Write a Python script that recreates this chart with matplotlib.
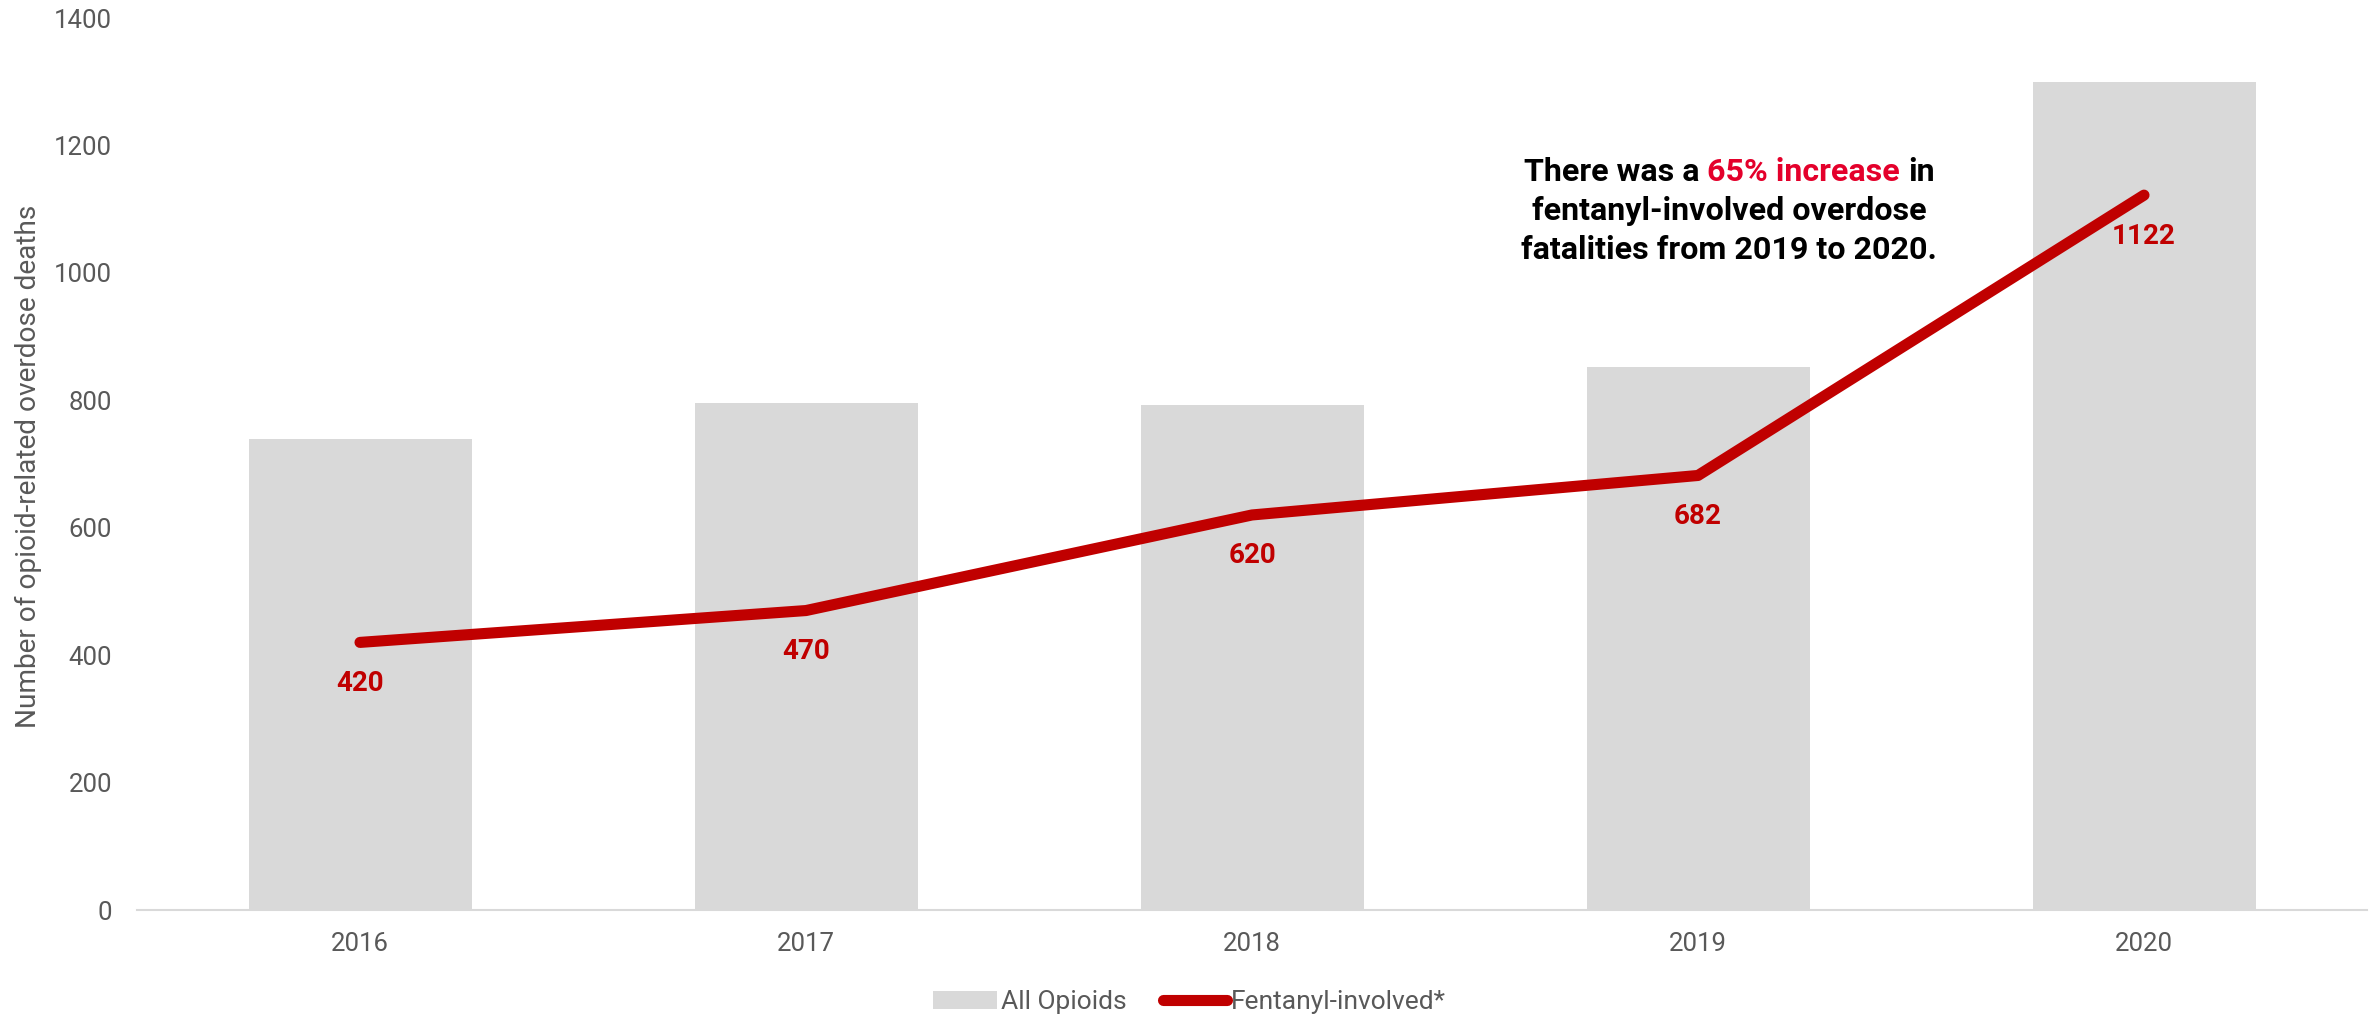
import matplotlib
matplotlib.use("Agg")
import matplotlib.pyplot as plt
from matplotlib.lines import Line2D
from matplotlib.patches import Patch

plt.rcParams['font.family'] = ['Roboto', 'DejaVu Sans']

years = ["2016", "2017", "2018", "2019", "2020"]
all_opioids = [740, 795, 793, 852, 1300]
fentanyl = [420, 470, 620, 682, 1122]
y_ticks = [0, 200, 400, 600, 800, 1000, 1200, 1400]

BAR_GRAY = "#d9d9d9"
LINE_RED = "#c00000"
HIGHLIGHT = "#e4002b"
TEXT_GRAY = "#595959"

fig = plt.figure(figsize=(23.79, 10.17), dpi=100)
ax = fig.add_axes([137 / 2379, 107 / 1017, (2367 - 137) / 2379, (910 - 18) / 1017])

x = list(range(len(years)))
ax.bar(x, all_opioids, width=0.5, color=BAR_GRAY, zorder=1)
ax.plot(x, fentanyl, color=LINE_RED, lw=8, solid_capstyle="round",
        solid_joinstyle="round", zorder=3)

for xi, v in zip(x, fentanyl):
    ax.annotate(str(v), (xi, v), xytext=(0, -29.5), textcoords="offset points",
                ha="center", va="center", fontsize=20, fontweight="bold",
                color=LINE_RED, zorder=4)

ax.set_xlim(-0.5, len(years) - 0.5)
ax.set_ylim(0, 1400)
ax.set_xticks(x)
ax.set_xticklabels(years)
ax.set_yticks(y_ticks)
ax.set_yticklabels([str(t) for t in y_ticks])
ax.tick_params(axis="both", length=0, labelsize=18.5, labelcolor=TEXT_GRAY)
ax.tick_params(axis="x", pad=16)
ax.tick_params(axis="y", pad=18)
for side in ("top", "right", "left"):
    ax.spines[side].set_visible(False)
ax.spines["bottom"].set_color(BAR_GRAY)
ax.spines["bottom"].set_linewidth(1.5)

ax.set_ylabel("Number of opioid-related overdose deaths", fontsize=20.2,
              color=TEXT_GRAY)
ax.yaxis.label.set_va("center")
ax.yaxis.set_label_coords((28 - 137) / 2230, 0.497)

handles = [Patch(facecolor=BAR_GRAY, edgecolor="none", label="All Opioids"),
           Line2D([], [], color=LINE_RED, lw=8, solid_capstyle="round",
                  label="Fentanyl-involved*")]
fig.legend(handles=handles, loc="center", bbox_to_anchor=(0.5, 1 - 1002 / 1017),
           bbox_transform=fig.transFigure, ncol=2, frameon=False, fontsize=19,
           labelcolor=TEXT_GRAY, handlelength=2.4, handletextpad=0.15,
           columnspacing=1.4)

# Callout: three centred lines, the first with a highlighted phrase
cx = 1729
base1, base2, base3 = 181, 220, 259
fs = 23.2
tprops = dict(fontsize=fs, fontweight="bold", va="baseline")

fig.canvas.draw()
renderer = fig.canvas.get_renderer()


def text_width(s):
    t = fig.text(0, 0, s, **tprops)
    w = t.get_window_extent(renderer).width
    t.remove()
    return w


part_a, part_b, part_c = "There was a", "65% increase", "in"
w_full = text_width(f"{part_a} {part_b} {part_c}")
w_ab = text_width(f"{part_a} {part_b}")
x0 = cx - w_full / 2
W, H = 2379, 1017
y1 = 1 - base1 / H
fig.text(x0 / W, y1, part_a, ha="left", color="black", **tprops)
fig.text((x0 + w_ab) / W, y1, part_b, ha="right", color=HIGHLIGHT, **tprops)
fig.text((x0 + w_full) / W, y1, part_c, ha="right", color="black", **tprops)
fig.text(cx / W, 1 - base2 / H, "fentanyl-involved overdose", ha="center",
         color="black", **tprops)
fig.text(cx / W, 1 - base3 / H, "fatalities from 2019 to 2020.", ha="center",
         color="black", **tprops)

fig.savefig("out.png", dpi=100, facecolor="white")
